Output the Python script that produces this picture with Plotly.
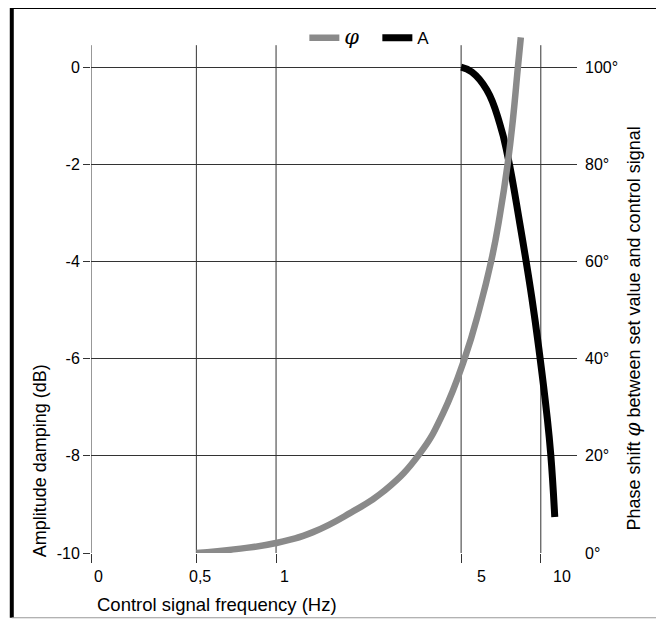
import math
import plotly.graph_objects as go

# ---- data ----
phase_freq = [0.5, 0.706, 1.0, 1.379, 1.902, 2.578, 3.494, 4.268, 5.168, 5.834,
              6.533, 7.003, 7.506, 7.842, 8.188, 8.405]
phase_deg = [0.0, 0.8, 2.05, 4.3, 8.2, 12.9, 20.5, 28.7, 40.2, 49.8,
             60.7, 69.5, 80.3, 89.1, 99.8, 106.1]

amp_freq = [5.0, 5.49, 6.255, 7.003, 7.506, 8.332, 9.25, 9.91, 10.53, 10.91, 11.29]
amp_db = [0.0, -0.10, -0.47, -1.17, -1.84, -3.22, -4.75, -5.94, -7.13, -7.99, -9.26]

x_tickvals = [0.2, 0.5, 1, 5, 10]
x_ticktext = ["0", "0,5", "1", "5", "10"]
y_tickvals = [0, -2, -4, -6, -8, -10]
y_ticktext = ["0", "-2", "-4", "-6", "-8", "-10"]
y2_tickvals = [0, 20, 40, 60, 80, 100]
y2_ticktext = ["0°", "20°", "40°", "60°", "80°", "100°"]

x_title = "Control signal frequency (Hz)"
y_title = "Amplitude damping (dB)"
y2_title = "Phase shift <span style='font-family:DejaVu Serif;font-size:20px'><i>φ</i></span> between set value and control signal"

# ---- styling ----
x_label_nudge = [7, 4, 8, 20, 21]   # px offsets of the x tick labels, as drawn in the original
Y_MIN, Y_MAX = -10, 0.66
GRID_TOP = 0.45
GRID = "#333333"
FONT = "Liberation Sans, Arial, sans-serif"
BODY = 8  # page body margin of the html page

fig = go.Figure()
fig.add_trace(go.Scatter(
    x=phase_freq, y=phase_deg,
    name="<span style='font-family:DejaVu Serif;font-size:21px'><i>φ</i></span>",
    mode="lines",
    line=dict(color="#8a8a8a", width=6.5, shape="spline", smoothing=1.3),
    yaxis="y2",
))
fig.add_trace(go.Scatter(
    x=amp_freq, y=amp_db, name="A", mode="lines",
    line=dict(color="black", width=7, shape="spline", smoothing=1.3),
))

# vertical grid lines (and left axis line) at the x ticks
for xv in x_tickvals:
    fig.add_shape(type="line", xref="x", yref="y", x0=xv, x1=xv,
                  y0=Y_MIN, y1=GRID_TOP, line=dict(color=GRID, width=1), layer="below")

# x tick labels
for xv, txt, dx in zip(x_tickvals, x_ticktext, x_label_nudge):
    fig.add_annotation(text=txt, xref="x", yref="paper", x=math.log10(xv), y=0,
                       xanchor="center", yanchor="top", xshift=dx, yshift=-13,
                       showarrow=False, font=dict(size=16, color="black", family=FONT))

# frame
fig.add_shape(type="line", xref="paper", yref="paper", x0=-0.163, x1=1.168, y0=1.054, y1=1.054,
              line=dict(color="black", width=4))
fig.add_shape(type="line", xref="paper", yref="paper", x0=-0.163, x1=-0.163, y0=-0.125, y1=1.054,
              line=dict(color="black", width=4))
fig.add_shape(type="line", xref="paper", yref="paper", x0=1.168, x1=1.168, y0=-0.125, y1=1.054,
              line=dict(color="black", width=3))
fig.add_shape(type="line", xref="paper", yref="paper", x0=-0.163, x1=1.168, y0=-0.125, y1=-0.125,
              line=dict(color="#999999", width=1))

fig.add_annotation(text=x_title, xref="paper", yref="paper", x=0.008, y=-0.1,
                   xanchor="left", yanchor="middle", showarrow=False,
                   font=dict(size=18.5, color="black", family=FONT))
fig.add_annotation(text=y_title, xref="paper", yref="paper", x=-0.105, y=0.179,
                   xanchor="center", yanchor="middle", textangle=-90, showarrow=False,
                   font=dict(size=18, color="black", family=FONT))
fig.add_annotation(text=y2_title, xref="paper", yref="paper", x=1.115, y=0.433,
                   xanchor="center", yanchor="middle", textangle=-90, showarrow=False,
                   font=dict(size=18, color="black", family=FONT))

fig.update_layout(
    width=664, height=621,
    margin=dict(l=91 - BODY, r=87 + BODY, t=33 - BODY, b=68 + BODY),
    paper_bgcolor="white", plot_bgcolor="white",
    font=dict(family=FONT, size=16, color="black"),
    showlegend=True,
    legend=dict(orientation="h", x=0.439, y=0.994, xanchor="left", yanchor="middle",
                bgcolor="rgba(0,0,0,0)", font=dict(size=17), traceorder="normal",
                entrywidth=28),
    xaxis=dict(type="log", range=[-0.699, 1.1367], showgrid=False, zeroline=False,
               showline=False, ticks="outside", ticklen=9, tickcolor=GRID,
               tickvals=x_tickvals, showticklabels=False),
    yaxis=dict(range=[Y_MIN, Y_MAX], showgrid=True, gridcolor=GRID, gridwidth=1,
               zeroline=False, showline=False, ticks="outside", ticklen=7, tickcolor=GRID,
               tickvals=y_tickvals, ticktext=y_ticktext, tickfont=dict(size=16)),
    yaxis2=dict(range=[0, 106.6], overlaying="y", side="right", showgrid=False,
                zeroline=False, showline=False, ticks="", ticklabelstandoff=7,
                tickvals=y2_tickvals, ticktext=y2_ticktext, tickfont=dict(size=16)),
)

fig.write_html("out.html")
